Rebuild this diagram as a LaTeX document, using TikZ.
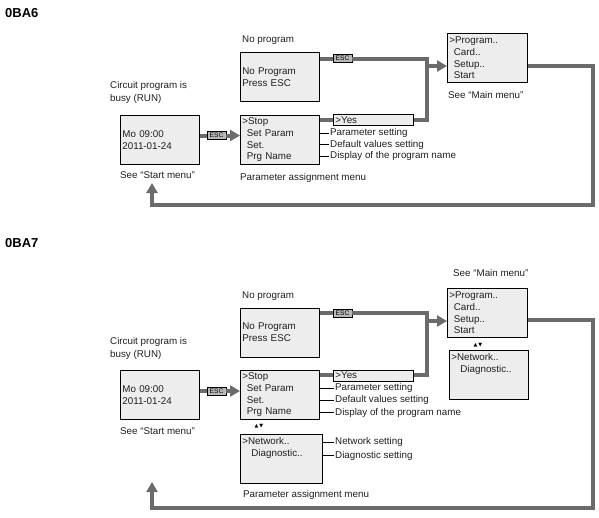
\documentclass[tikz,border=0pt]{standalone}
\usepackage{fontspec}
\setmainfont{Liberation Sans}
\newfontfamily\symfont{DejaVu Sans}
\usetikzlibrary{arrows.meta}
\definecolor{boxgray}{gray}{0.93}
\definecolor{linegray}{gray}{0.42}
\definecolor{escgray}{gray}{0.72}
\definecolor{txtgray}{gray}{0.12}
\newcommand{\menusp}{\hspace*{4.5pt}}
\newcommand{\updown}{{\symfont\fontsize{5}{5}\selectfont ▲\,▼}}
\tikzset{
  menubox/.style={draw, fill=boxgray, line width=0.8pt, anchor=north west, minimum width=79pt, minimum height=49pt,
    text width=75pt, inner xsep=2pt, inner ysep=0.5pt, align=left, text=txtgray, font=\fontsize{9.8}{11.7}\selectfont},
  yesbox/.style={menubox, minimum width=80pt, minimum height=11pt, text width=76pt},
  esc/.style={draw, fill=escgray, line width=0.8pt, minimum width=19pt, minimum height=8pt, inner sep=0pt,
    font=\fontsize{6.6}{7}\selectfont},
  lbl/.style={anchor=west, inner sep=1pt, text=txtgray, font=\fontsize{9.8}{13}\selectfont, align=left},
  conn/.style={draw=linegray, line width=4pt},
  arr/.style={conn, -{Triangle[width=11pt,length=10pt]}},
  lead/.style={line width=0.6pt},
  title/.style={anchor=base west, inner sep=0pt, font=\bfseries\fontsize{13}{15}\selectfont},
}
\begin{document}
\begin{tikzpicture}[x=1pt,y=-1pt]
\useasboundingbox (0,0) rectangle (599,517);

% 0BA6
\node[title] (titlea) at (5,17) {0BA6};
\node[lbl] (busya) at (109,92) {Circuit program is\\busy (RUN)};
\node[lbl] (noproglbla) at (241,40) {No program};
\node[menubox] (moa) at (120,115) {Mo 09:00\\2011-01-24};
\node[lbl] (seestarta) at (119,175) {See “Start menu”};
\node[menubox] (noproga) at (240,52) {No Program\\Press ESC};
\node[menubox] (stopa) at (240,115) {>Stop\\\menusp Set Param\\\menusp Set.\\\menusp Prg Name};
\node[lbl] (paramlbla) at (239,178) {Parameter assignment menu};
\node[yesbox] (yesa) at (333,114) {>Yes};
\node[menubox, minimum width=80pt, text width=76pt] (proga) at (447,33) {>Program..\\\menusp Card..\\\menusp Setup..\\\menusp Start};
\node[lbl] (seemaina) at (447,95) {See “Main menu”};
\node[esc] (esca) at (342.5,58.5) {ESC};
\node[esc] (escb) at (216.5,135.5) {ESC};
\node[lbl] (parseta) at (329,133) {Parameter setting};
\node[lbl] (defseta) at (329,144.5) {Default values setting};
\node[lbl] (dispa) at (329,156) {Display of the program name};
\coordinate (joina) at (427,58.5);
\coordinate (ina) at (427,66);
\coordinate (outa) at (593,66);
\coordinate (backa) at (152,204.5);

\draw[conn] (noproga.east |- esca) -- (esca.west);
\draw[conn] (esca.east) -- (joina) |- (yesa.east);
\draw[conn] (stopa.east |- yesa) -- (yesa.west);
\draw[arr] (ina) -- (ina -| proga.west);
\draw[conn] (moa.east |- escb) -- (escb.west);
\draw[arr] (escb.east) -- (escb -| stopa.west);
\draw[arr] (outa -| proga.east) -- (outa) |- (backa) -- (backa |- 0,183);
\foreach \l in {parseta,defseta,dispa}
  \draw[lead] (stopa.east |- \l) -- (\l.west);

% 0BA7
\node[title] (titleb) at (5,247) {0BA7};
\node[lbl] (busyb) at (109,348) {Circuit program is\\busy (RUN)};
\node[lbl] (noproglblb) at (241,296) {No program};
\node[menubox] (mob) at (120,370) {Mo 09:00\\2011-01-24};
\node[lbl] (seestartb) at (119,431) {See “Start menu”};
\node[menubox] (noprogb) at (240,307.5) {No Program\\Press ESC};
\node[menubox] (stopb) at (240,370) {>Stop\\\menusp Set Param\\\menusp Set.\\\menusp Prg Name};
\node (udb) at (259,426.5) {\updown};
\node[menubox, minimum width=82pt, text width=78pt] (neta) at (240,434) {>Network..\\\menusp\menusp Diagnostic..\\~\\~};
\node[lbl] (paramlblb) at (242,495) {Parameter assignment menu};
\node[yesbox] (yesb) at (333,369.5) {>Yes};
\node[lbl] (seemainb) at (452,273) {See “Main menu”};
\node[menubox, minimum width=80pt, text width=76pt] (progb) at (447,288) {>Program..\\\menusp Card..\\\menusp Setup..\\\menusp Start};
\node (udc) at (478,345) {\updown};
\node[menubox] (netb) at (449,350) {>Network..\\\menusp\menusp Diagnostic..\\~\\~};
\node[esc] (escc) at (342.5,313) {ESC};
\node[esc] (escd) at (216.5,391) {ESC};
\node[lbl] (parsetb) at (334,388) {Parameter setting};
\node[lbl] (defsetb) at (334,400) {Default values setting};
\node[lbl] (dispb) at (334,412.5) {Display of the program name};
\node[lbl] (netset) at (334,442) {Network setting};
\node[lbl] (diagset) at (334,455.5) {Diagnostic setting};
\coordinate (joinb) at (427,313);
\coordinate (inb) at (427,321);
\coordinate (outb) at (593,320);
\coordinate (backb) at (152,508);

\draw[conn] (noprogb.east |- escc) -- (escc.west);
\draw[conn] (escc.east) -- (joinb) |- (yesb.east);
\draw[conn] (stopb.east |- yesb) -- (yesb.west);
\draw[arr] (inb) -- (inb -| progb.west);
\draw[conn] (mob.east |- escd) -- (escd.west);
\draw[arr] (escd.east) -- (escd -| stopb.west);
\draw[arr] (outb -| progb.east) -- (outb) |- (backb) -- (backb |- 0,482);
\foreach \l in {parsetb,defsetb,dispb}
  \draw[lead] (stopb.east |- \l) -- (\l.west);
\foreach \l in {netset,diagset}
  \draw[lead] (neta.east |- \l) -- (\l.west);

\end{tikzpicture}
\end{document}
